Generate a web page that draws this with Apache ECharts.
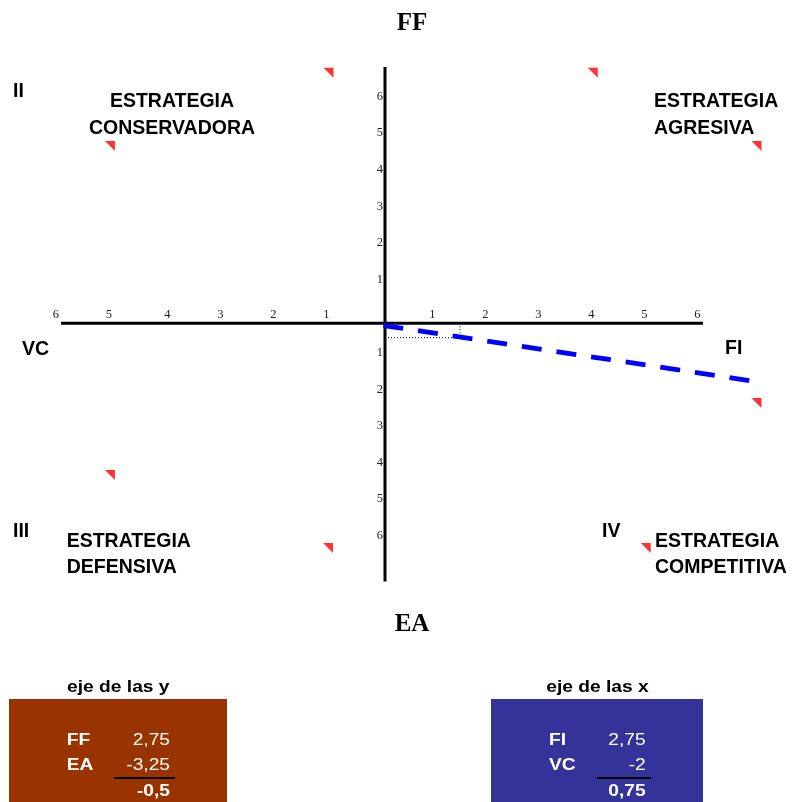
<!DOCTYPE html>
<html><head><meta charset="utf-8">
<script src="https://cdn.jsdelivr.net/npm/echarts@6/dist/echarts.min.js"></script>
<style>html,body{margin:0;padding:0;background:#fff}#c{width:795px;height:802px}</style>
</head><body><div id="c"></div>
<script>
// ---- data ----
const axisLimit = 7;                       // tick range on both axes
const xAxisExtent = [-6.113, 6.0];         // drawn extent of horizontal axis line
const yAxisExtent = [-7.06, 7.0];          // drawn extent of vertical axis line
const strategyLine = [[-0.03, -0.063], [6.93, -1.58]];
const resultPoint = [1.415, -0.396];
const commentMarks = [[-1.066, 6.84], [3.92, 6.84], [-5.19, 4.84], [7.01, 4.84],
                      [7.01, -2.18], [-5.19, -4.15], [-1.075, -6.14], [4.92, -6.14]];
const topTitle = 'FF';
const bottomTitle = 'EA';
const leftLabel = 'VC';
const rightLabel = 'FI';
const yTableTitle = 'eje de las y';
const yTableLabels = ['FF', 'EA'];
const yTableValues = ['2,75', '-3,25'];
const yTableTotal = '-0,5';
const xTableTitle = 'eje de las x';
const xTableLabels = ['FI', 'VC'];
const xTableValues = ['2,75', '-2'];
const xTableTotal = '0,75';

// ---- layout ----
const SANS = '"Liberation Sans", Arial, sans-serif';
const SERIF = '"Liberation Serif", "Times New Roman", serif';
function txt(text, x, y, o) {
  o = o || {};
  return {
    type: 'text', x: x, y: y, scaleX: o.sx || 1, silent: true, z: 100,
    style: {
      text: text, fill: o.fill || '#000',
      font: (o.weight || 'bold') + ' ' + (o.size || 19.5) + 'px ' + (o.family || SANS),
      align: o.align || 'left', verticalAlign: 'middle'
    }
  };
}
const els = [];
els.push(txt(topTitle, 412, 23.5, {size: 25, family: SERIF, align: 'center'}));
els.push(txt(bottomTitle, 412, 625, {size: 25, family: SERIF, align: 'center'}));
els.push(txt('II', 13, 92));
els.push(txt('ESTRATEGIA', 172, 102, {align: 'center'}));
els.push(txt('CONSERVADORA', 172, 129, {align: 'center'}));
els.push(txt('ESTRATEGIA', 654, 102));
els.push(txt('AGRESIVA', 654, 129));
els.push(txt(leftLabel, 22, 349.5));
els.push(txt(rightLabel, 725, 348.3));
els.push(txt('III', 13, 532));
els.push(txt('ESTRATEGIA', 66.7, 542));
els.push(txt('DEFENSIVA', 66.7, 568));
els.push(txt('IV', 602, 532));
els.push(txt('ESTRATEGIA', 655, 542));
els.push(txt('COMPETITIVA', 655, 568));

function table(rx, rw, color, title, titleX, labels, values, total, labelX, valueX, lineX1, lineX2) {
  els.push({type: 'rect', silent: true, z: 90, shape: {x: rx, y: 699, width: rw, height: 104}, style: {fill: color}});
  els.push(txt(title, titleX, 688, {size: 16, sx: 1.2, align: 'center'}));
  const rowsY = [740.5, 766];
  labels.forEach(function (l, i) {
    els.push(txt(l, labelX, rowsY[i], {size: 16, sx: 1.2, fill: '#fff'}));
    els.push(txt(values[i], valueX, rowsY[i], {size: 16, sx: 1.2, fill: '#fff', weight: 'normal', align: 'right'}));
  });
  els.push({type: 'line', silent: true, z: 100, shape: {x1: lineX1, y1: 778, x2: lineX2, y2: 778}, style: {stroke: '#000', lineWidth: 2}});
  els.push(txt(total, valueX, 791.5, {size: 16, sx: 1.2, fill: '#fff', align: 'right'}));
}
table(9, 218, '#993300', yTableTitle, 118.3, yTableLabels, yTableValues, yTableTotal, 66.7, 170, 114, 175);
table(491, 212, '#333399', xTableTitle, 597.5, xTableLabels, xTableValues, xTableTotal, 549, 645.7, 597, 651);

function tickFmt(v) {
  if (v === 0 || Math.abs(v) >= axisLimit) return '';
  const a = String(Math.abs(v));
  return (v <= -5) ? '{f|' + a + '}' : '{n|' + a + '}';
}
function yTickFmt(v) {
  if (v === 0 || Math.abs(v) >= axisLimit) return '';
  return '{v|' + Math.abs(v) + '}';
}
const tickFont = {fontFamily: SERIF, fontSize: 12.5, color: '#222'};

// grid geometry: zero of each axis sits inside the grid; axes are shifted there with offset
const gridLeft = 14, gridRight = 39, gridTop = 67, gridBottom = 222.6;
const plotW = 795 - gridLeft - gridRight, plotH = 802 - gridTop - gridBottom;
const xAxisOffset = -(plotH / 2);   // move bottom axis up to y = 0
const yAxisOffset = -(plotW / 2);   // move left axis right to x = 0

const chart = echarts.init(document.getElementById('c'), null, {renderer: 'canvas'});
chart.setOption({
  animation: false,
  backgroundColor: '#fff',
  grid: {left: gridLeft, right: gridRight, top: gridTop, bottom: gridBottom, containLabel: false},
  xAxis: {
    type: 'value', min: -axisLimit, max: axisLimit, interval: 1, position: 'bottom', offset: xAxisOffset,
    axisLine: {show: false, onZero: false}, axisTick: {show: false}, splitLine: {show: false},
    axisLabel: {
      inside: true, margin: 2, align: 'right', formatter: tickFmt,
      fontFamily: SERIF, fontSize: 12.5, color: '#222',
      rich: {n: Object.assign({padding: [0, 2.5, 0, 0]}, tickFont), f: Object.assign({padding: [0, 8, 0, 0]}, tickFont)}
    }
  },
  yAxis: {
    type: 'value', min: -axisLimit, max: axisLimit, interval: 1, position: 'left', offset: yAxisOffset,
    axisLine: {show: false, onZero: false}, axisTick: {show: false}, splitLine: {show: false},
    axisLabel: {
      margin: 2, verticalAlign: 'bottom', formatter: yTickFmt,
      fontFamily: SERIF, fontSize: 12.5, color: '#222',
      rich: {v: Object.assign({padding: [0, 0, 0.5, 0]}, tickFont)}
    }
  },
  series: [
    {type: 'line', z: 2, clip: false, symbol: 'none', silent: true,
     data: [[xAxisExtent[0], 0], [xAxisExtent[1], 0]], lineStyle: {color: '#000', width: 3}},
    {type: 'line', z: 2, clip: false, symbol: 'none', silent: true,
     data: [[0, yAxisExtent[0]], [0, yAxisExtent[1]]], lineStyle: {color: '#000', width: 3}},
    {type: 'line', z: 3, clip: false, symbol: 'none', silent: true,
     data: [[0, resultPoint[1]], resultPoint], lineStyle: {color: '#000', width: 1, type: [1, 2]}},
    {type: 'line', z: 3, clip: false, symbol: 'none', silent: true,
     data: [[resultPoint[0], 0], resultPoint], lineStyle: {color: '#000', width: 1, type: [1, 2]}},
    {type: 'line', z: 4, clip: false, symbol: 'none', silent: true,
     data: strategyLine, lineStyle: {color: '#0000FF', width: 4.8, type: [20, 15], cap: 'butt'}},
    {type: 'scatter', z: 5, clip: false, silent: true,
     symbol: 'path://M0,0L10,0L10,10Z', symbolSize: 10,
     itemStyle: {color: '#FF0000'}, data: commentMarks}
  ],
  graphic: {elements: els}
});
</script>
</body></html>
